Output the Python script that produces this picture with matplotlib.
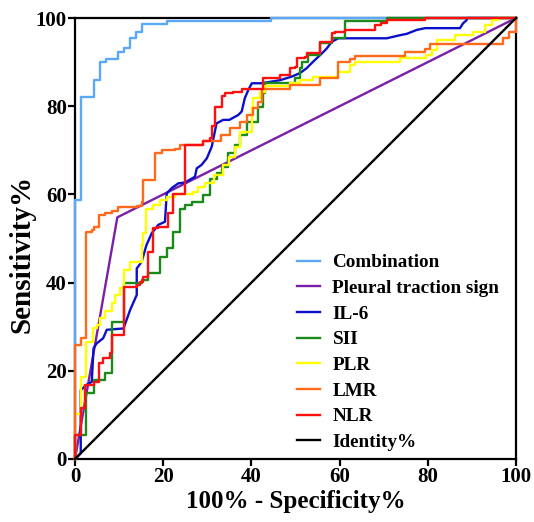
import numpy as np
import matplotlib.pyplot as plt

# ROC data (100% - specificity, sensitivity)
comb_x = [0, 0, 1.4, 4.2, 5.7, 7.0, 9.7, 11.2, 12.5, 13.8, 15.1, 20.9, 44.4, 100]
comb_y = [0, 58.7, 82.1, 86.0, 90.0, 90.7, 92.2, 93.1, 95.4, 96.9, 98.6, 99.3, 100, 100]

pleural_x = [0, 9.6, 100]
pleural_y = [0, 54.8, 100]

il6_x = [0, 1.3, 1.3, 2.6, 3.8, 4.2, 4.9, 6.4, 7.2, 11.0, 12.5, 14.0, 14.0, 15.1, 16.2,
         17.4, 18.9, 20.4, 20.8, 21.9, 23.4, 24.9, 27.2, 27.6, 28.7, 29.9, 31.0, 31.7,
         32.1, 33.6, 35.0, 37.0, 37.8, 38.5, 39.3, 40.1, 42.3, 46.5, 49.1, 51.0, 52.5,
         54.0, 55.6, 57.1, 58.2, 59.7, 70.7, 73.7, 75.2, 77.5, 79.4, 87.3, 88.0, 88.8,
         88.8, 100]
il6_y = [0, 1.3, 15.6, 16.8, 17.5, 25.1, 26.2, 27.4, 29.3, 29.6, 33.8, 37.2, 43.2, 44.7,
         48.5, 51.2, 53.1, 53.8, 60.2, 61.4, 62.5, 62.7, 64.0, 65.9, 66.7, 68.2, 70.8,
         74.2, 76.1, 76.9, 76.9, 78.0, 78.8, 81.8, 83.7, 85.2, 85.2, 85.9, 86.7, 87.5,
         88.6, 90.1, 91.6, 93.1, 94.6, 95.4, 95.4, 96.1, 96.4, 97.3, 97.7, 97.7, 98.8,
         99.5, 100, 100]

sii_x = [0, 0, 2.6, 4.2, 6.8, 8.3, 11.0, 15.1, 16.6, 19.3, 20.8, 22.3, 23.8, 24.9, 26.5,
         29.1, 30.6, 32.1, 33.3, 34.8, 36.3, 37.4, 38.9, 41.6, 42.7, 43.1, 49.9, 51.0,
         51.4, 52.9, 55.6, 58.2, 61.2, 70.7, 100]
sii_y = [0, 5.4, 14.9, 17.9, 19.4, 31.1, 39.8, 40.6, 42.1, 45.9, 47.8, 51.5, 56.8, 57.6,
         58.3, 59.9, 63.6, 64.8, 66.3, 69.3, 71.2, 73.5, 76.5, 79.9, 82.9, 85.2, 86.3,
         88.6, 90.1, 91.6, 94.3, 95.4, 99.4, 100, 100]

plr_x = [0, 0, 1.3, 2.5, 4.0, 4.9, 5.7, 6.8, 8.3, 9.1, 10.1, 11.0, 12.5, 15.1, 15.5, 16.2,
         17.8, 19.3, 20.8, 22.7, 26.8, 28.0, 29.5, 31.5, 33.6, 35.0, 36.3, 37.4, 40.1,
         40.4, 41.9, 43.0, 48.8, 51.0, 54.0, 59.7, 62.4, 63.5, 73.7, 79.7, 80.9, 82.0,
         86.2, 90.3, 93.0, 94.5, 96.0, 100]
plr_y = [0, 10.1, 18.7, 26.6, 29.6, 30.4, 31.9, 33.5, 35.3, 37.2, 38.7, 42.9, 44.7, 48.5,
         51.2, 56.8, 57.6, 58.7, 59.5, 60.2, 60.6, 61.7, 62.5, 64.5, 66.7, 68.5, 70.8,
         74.2, 79.9, 81.8, 83.3, 84.5, 85.2, 85.9, 86.7, 87.8, 89.3, 90.1, 90.9, 91.6,
         92.7, 95.0, 96.1, 96.9, 98.4, 99.5, 100, 100]

lmr_x = [0, 0, 1.3, 2.6, 3.8, 4.3, 5.5, 6.7, 8.3, 9.8, 14.0, 15.1, 15.5, 18.1, 19.7, 22.7,
         23.8, 29.1, 33.0, 35.1, 37.4, 38.9, 40.4, 41.6, 42.5, 48.8, 55.6, 59.7, 62.4,
         63.4, 74.8, 79.4, 80.5, 97.1, 98.3, 100, 100]
lmr_y = [0, 25.9, 27.4, 51.4, 51.9, 52.7, 55.3, 55.7, 56.3, 57.1, 57.4, 58.3, 63.3, 69.5,
         70.0, 70.4, 71.2, 72.0, 73.5, 75.0, 76.5, 78.0, 79.5, 81.0, 84.0, 84.8, 86.3,
         90.0, 90.8, 91.4, 92.4, 92.9, 94.0, 95.4, 96.9, 100, 100]

nlr_x = [0, 0, 1.3, 2.3, 4.2, 5.5, 6.4, 7.9, 8.3, 11.0, 14.0, 14.7, 15.5, 16.6, 17.8, 18.9,
         21.2, 22.3, 24.9, 29.1, 30.6, 31.0, 31.7, 33.3, 34.0, 35.9, 37.8, 42.7, 46.5,
         48.8, 49.9, 50.3, 52.2, 52.5, 55.6, 58.2, 59.0, 61.2, 68.0, 69.5, 70.7, 79.4, 100]
nlr_y = [0, 5.4, 11.5, 16.8, 17.5, 21.7, 22.8, 24.0, 28.1, 39.1, 39.5, 40.2, 41.3, 47.0,
         52.3, 52.7, 55.7, 60.2, 71.2, 72.0, 72.7, 75.4, 79.9, 82.2, 82.9, 83.3, 83.8,
         86.3, 87.1, 88.6, 89.0, 90.9, 91.2, 92.0, 94.6, 96.5, 96.9, 97.3, 98.4, 98.8,
         99.5, 100, 100]

ident_x = [0, 100]
ident_y = [0, 100]

plt.rcParams['font.family'] = 'Liberation Serif'
plt.rcParams['font.weight'] = 'bold'

fig = plt.figure(figsize=(5.34, 5.22), dpi=100)
ax = fig.add_axes([75 / 534, 63 / 522, 441 / 534, 441 / 522])

lw = 1.7
ax.step(comb_x, comb_y, where='post', color='#5aa8f7', lw=lw, label='Combination', clip_on=False, zorder=3)
ax.plot(pleural_x, pleural_y, color='#7b1fa8', lw=lw, label='Pleural traction sign', clip_on=False, zorder=3)
ax.plot(il6_x, il6_y, color='#0a10c8', lw=lw, label='IL-6', clip_on=False, zorder=3)
ax.step(sii_x, sii_y, where='post', color='#1a8a1a', lw=lw, label='SII', clip_on=False, zorder=3)
ax.step(plr_x, plr_y, where='post', color='#ffff00', lw=lw, label='PLR', clip_on=False, zorder=3)
ax.step(lmr_x, lmr_y, where='post', color='#ff6a1a', lw=lw, label='LMR', clip_on=False, zorder=3)
ax.step(nlr_x, nlr_y, where='post', color='#ff1010', lw=lw, label='NLR', clip_on=False, zorder=3)
ax.plot(ident_x, ident_y, color='black', lw=lw, label='Identity%', clip_on=False, zorder=3)

ax.set_xlim(0, 100)
ax.set_ylim(0, 100)
ax.set_xticks([0, 20, 40, 60, 80, 100])
ax.set_yticks([0, 20, 40, 60, 80, 100])
for s in ax.spines.values():
    s.set_linewidth(1.6)
    s.set_color('black')
ax.tick_params(direction='out', length=5, width=1.6, labelsize=15, pad=1)

ax.set_xlabel('100% - Specificity%', fontsize=18, fontweight='bold', labelpad=2)
ax.set_ylabel('Sensitivity%', fontsize=21, fontweight='bold', labelpad=0, y=0.465)

leg = ax.legend(loc='upper left', bbox_to_anchor=(297 / 534, 1 - 254 / 522),
                bbox_transform=fig.transFigure, frameon=False, fontsize=13.8,
                handlelength=1.2, handletextpad=0.65, labelspacing=0.43,
                borderpad=0, borderaxespad=0)

plt.savefig('out.png', dpi=100)
